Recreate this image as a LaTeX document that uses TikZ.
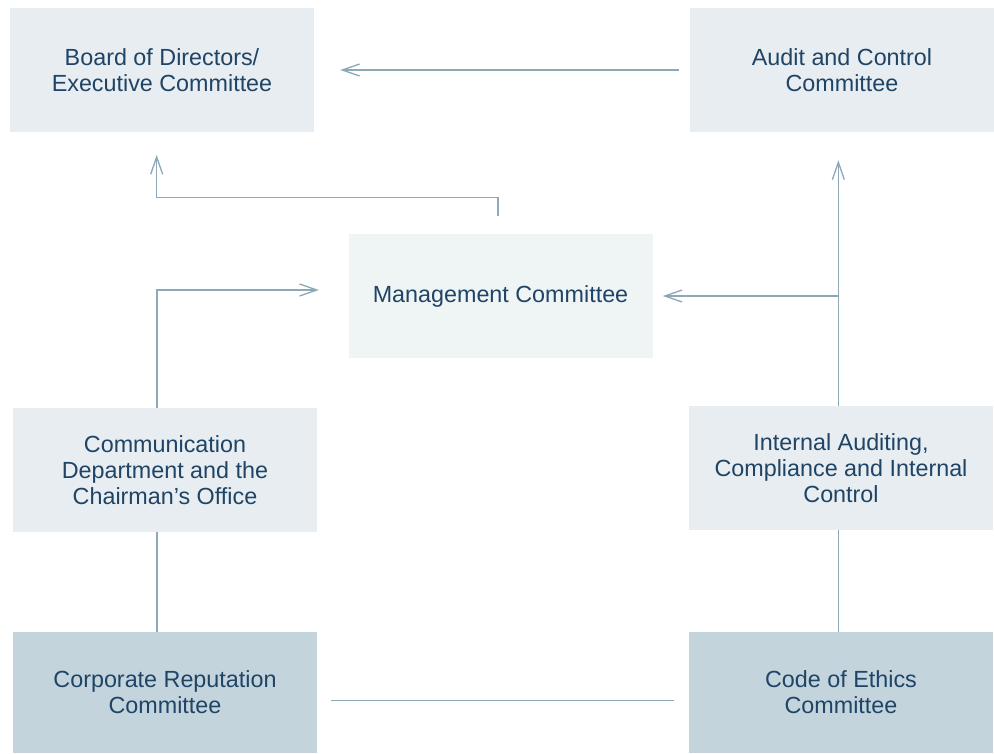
\documentclass[tikz,border=0pt]{standalone}
\usepackage{fontspec}
\setmainfont{Liberation Sans}
\usetikzlibrary{arrows.meta}
\definecolor{boxpale}{HTML}{E7EDF0}
\definecolor{boxpaler}{HTML}{EFF4F5}
\definecolor{boxdeep}{HTML}{C4D4DD}
\definecolor{inkblue}{HTML}{1F4466}
\definecolor{linkgrey}{HTML}{8DA9B8}
\begin{document}
\begin{tikzpicture}[x=0.75pt,y=-0.75pt,
        box/.style={fill=boxpale,text=inkblue,minimum width=228pt,minimum height=93pt,
            align=center,inner sep=0pt,font=\fontsize{17.5}{19.5}\selectfont},
        link/.style={draw=linkgrey,line width=1pt},
        tip/.style={-{Straight Barb[length=13pt,width=9pt,line width=1pt]}}]
        \useasboundingbox (0,0) rectangle (994,753);
        %% top row
        \node[box] (board) at (162,70) {Board of Directors/\\Executive Committee};
        \node[box] (audit) at (842,70) {Audit and Control\\Committee};
        %% middle
        \node[box,fill=boxpaler] (mgmt) at (500.5,296) {Management Committee};
        \node[box] (comm) at (165,470) {Communication\\Department and the\\Chairman’s Office};
        \node[box] (intaudit) at (841,468) {Internal Auditing,\\Compliance and Internal\\Control};
        %% bottom row
        \foreach \n/\x/\t in {reput/165/Corporate Reputation,ethics/841/Code of Ethics}
            \node[box,fill=boxdeep,minimum height=91pt] (\n) at (\x,692.5) {\t\\Committee};
        %% links
        \draw[link,tip,shorten <=8pt,shorten >=19.5pt] (audit.west) -- (board.east);
        \draw[link,tip,shorten <=13.5pt,shorten >=17pt] ([xshift=-2pt]mgmt.north) -- ++(0,-36) -| ([xshift=-4pt]board.south);
        \draw[link,tip,shorten >=22pt] ([xshift=-6pt]comm.north) |- ([yshift=4.5pt]mgmt.west);
        \coordinate (trunk) at ([xshift=-2pt]intaudit.north);
        \draw[link,tip,shorten >=21pt] (trunk) -- (trunk |- audit.south);
        \draw[link,tip,shorten >=7.5pt] (trunk |- mgmt.east) -- (mgmt.east);
        \draw[link] ([xshift=-6pt]reput.north) -- ([xshift=-6pt]comm.south);
        \draw[link] (trunk |- ethics.north) -- (trunk |- intaudit.south);
        \draw[link,shorten <=10.5pt,shorten >=11pt] ([yshift=-6pt]reput.east) -- ([yshift=-6pt]ethics.west);
    \end{tikzpicture}
\end{document}
